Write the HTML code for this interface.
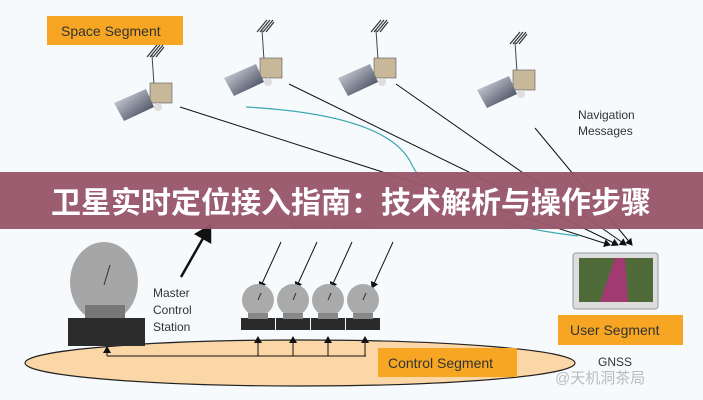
<!DOCTYPE html>
<html><head><meta charset="utf-8"><style>
body{margin:0;width:703px;height:400px;overflow:hidden;background:#f7fafc;font-family:"Liberation Sans","Noto Sans CJK SC",sans-serif}
svg{position:absolute;left:0;top:0}
</style></head><body>
<svg width="703" height="400" viewBox="0 0 703 400">
<defs>
<marker id="a" markerWidth="8" markerHeight="8" refX="6" refY="4" orient="auto"><path d="M0,0 L7,4 L0,8z" fill="#111"/></marker>
<linearGradient id="p" x1="0" y1="0" x2="1" y2="1"><stop offset="0" stop-color="#e8ebf2"/><stop offset="1" stop-color="#2a3145"/></linearGradient>
<g id="sat">
<path d="M-5,-38 l10,-12 M-2,-38 l10,-12 M1,-38 l10,-12 M4,-38 l8,-10" stroke="#333" stroke-width="1.2"/>
<line x1="0" y1="-40" x2="2" y2="-10" stroke="#444"/>
<rect x="-2" y="-12" width="22" height="20" fill="#c8b89a" stroke="#555" stroke-width=".6"/>
<path d="M-38,8 L-6,-6 L2,12 L-28,26z" fill="url(#p)"/>
<circle cx="6" cy="12" r="4" fill="#ddd"/>
</g>
<g id="dish">
<ellipse cx="0" cy="0" rx="16" ry="16" fill="#aaa"/>
<line x1="0" y1="0" x2="3" y2="-7" stroke="#333"/>
<rect x="-17" y="18" width="34" height="12" fill="#2a2a2a"/>
<rect x="-10" y="13" width="20" height="6" fill="#888"/>
</g>
</defs>
<rect x="47" y="16" width="136" height="29" fill="#f6a623"/>
<text x="61" y="36" font-size="14" fill="#333">Space Segment</text>
<use href="#sat" x="152" y="95"/>
<use href="#sat" x="262" y="70"/>
<use href="#sat" x="376" y="70"/>
<use href="#sat" x="515" y="82"/>
<g stroke="#111" stroke-width="1" fill="none">
<line x1="180" y1="107" x2="610" y2="245" marker-end="url(#a)"/>
<line x1="289" y1="84" x2="618" y2="245" marker-end="url(#a)"/>
<line x1="396" y1="84" x2="626" y2="245" marker-end="url(#a)"/>
<line x1="535" y1="128" x2="632" y2="245" marker-end="url(#a)"/>
</g>
<path d="M246,107 Q390,115 412,165 Q440,220 578,236" stroke="#3aa9b0" stroke-width="1.2" fill="none"/>
<text x="578" y="119" font-size="12" fill="#333">Navigation</text>
<text x="578" y="135" font-size="12" fill="#333">Messages</text>
<text x="290" y="228" font-size="11" fill="#555">Monitor Stations</text>
<line x1="181" y1="277" x2="210" y2="226" stroke="#111" stroke-width="2.5" marker-end="url(#a)"/>
<g stroke="#111" stroke-width="1">
<line x1="281" y1="242" x2="260" y2="288" marker-end="url(#a)"/>
<line x1="317" y1="242" x2="296" y2="288" marker-end="url(#a)"/>
<line x1="352" y1="242" x2="331" y2="288" marker-end="url(#a)"/>
<line x1="393" y1="242" x2="372" y2="288" marker-end="url(#a)"/>
</g>
<text x="153" y="297" font-size="12" fill="#333">Master</text>
<text x="153" y="314" font-size="12" fill="#333">Control</text>
<text x="153" y="331" font-size="12" fill="#333">Station</text>
<ellipse cx="300" cy="363" rx="275" ry="23" fill="#fbd6a6" stroke="#222" stroke-width="1.2"/>
<ellipse cx="104" cy="282" rx="34" ry="40" fill="#a6a6a6"/>
<line x1="104" y1="285" x2="110" y2="265" stroke="#333"/>
<rect x="85" y="305" width="40" height="15" fill="#777"/>
<rect x="68" y="318" width="77" height="28" fill="#2c2c2c"/>
<use href="#dish" x="258" y="300"/>
<use href="#dish" x="293" y="300"/>
<use href="#dish" x="328" y="300"/>
<use href="#dish" x="363" y="300"/>
<g stroke="#111" stroke-width="1" fill="none">
<path d="M107,356 H366"/>
<line x1="107" y1="356" x2="107" y2="347" marker-end="url(#a)"/>
<line x1="258" y1="356" x2="258" y2="337" marker-end="url(#a)"/>
<line x1="293" y1="356" x2="293" y2="337" marker-end="url(#a)"/>
<line x1="328" y1="356" x2="328" y2="337" marker-end="url(#a)"/>
<line x1="365" y1="356" x2="365" y2="337" marker-end="url(#a)"/>
</g>
<rect x="378" y="348" width="139" height="29" fill="#f6a623"/>
<text x="388" y="368" font-size="14" fill="#333">Control Segment</text>
<rect x="573" y="253" width="85" height="56" rx="3" fill="#ddd" stroke="#999"/>
<rect x="579" y="258" width="74" height="44" fill="#4f6b3a"/>
<path d="M600,302 L615,258 L625,258 L628,302z" fill="#a03a70"/>
<rect x="558" y="315" width="125" height="30" fill="#f6a623"/>
<text x="570" y="335" font-size="14" fill="#333">User Segment</text>
<text x="598" y="366" font-size="12" fill="#333">GNSS</text>
<text x="555" y="383" font-size="15" fill="#bbb">@天机洞茶局</text>
<rect x="0" y="172" width="703" height="57" fill="#98566a" opacity=".96"/>
<text x="351" y="213" font-size="30" font-weight="bold" fill="#fff" text-anchor="middle">卫星实时定位接入指南：技术解析与操作步骤</text>
</svg>
</body></html>
